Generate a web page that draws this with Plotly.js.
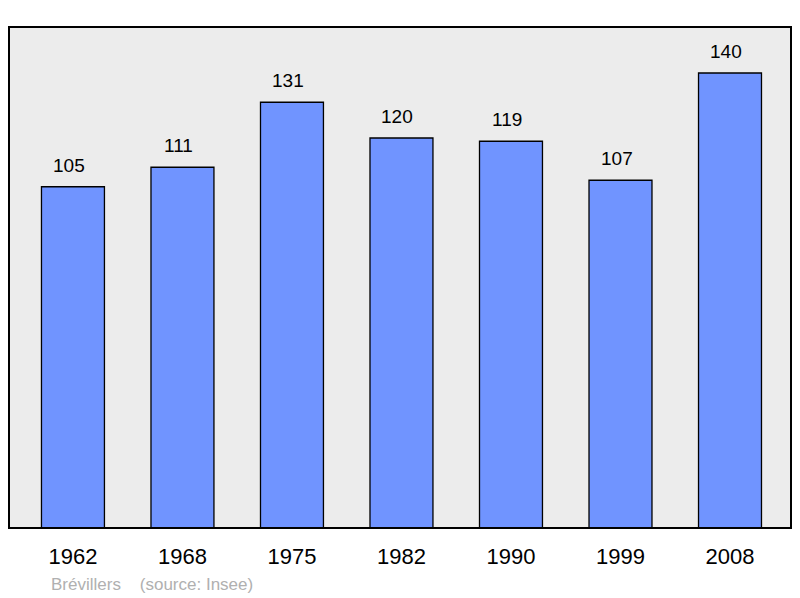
<!DOCTYPE html>
<html>
<head>
<meta charset="utf-8">
<script src="https://cdn.plot.ly/plotly-3.0.1.min.js"></script>
<style>html,body{margin:0;padding:0;background:#fff;}#chart{width:800px;height:598px;}</style>
</head>
<body>
<div id="chart"></div>
<script>
var years = ['1962', '1968', '1975', '1982', '1990', '1999', '2008'];
var population = [105, 111, 131, 120, 119, 107, 140];
var commune = 'Brévillers';
var source = '(source: Insee)';

var trace = {
  type: 'bar',
  x: years.map(function(_, i){ return i; }),
  y: population,
  width: 0.575,
  marker: {color: '#7094ff', line: {color: '#000', width: 1.3}},
  hoverinfo: 'none'
};

var annotations = population.map(function(v, i){
  return {x: i, y: v, xref: 'x', yref: 'y', text: String(v), showarrow: false,
    yanchor: 'bottom', yshift: 9, xshift: -4, font: {family: 'Liberation Sans, Arial, sans-serif', size: 19, color: '#000'}};
});
annotations.push({xref: 'paper', yref: 'paper', x: 40/782, y: 0, xanchor: 'left', yanchor: 'top',
  yshift: -45, text: commune + '&nbsp;&nbsp;&nbsp;&nbsp;' + source, showarrow: false,
  font: {family: 'Liberation Sans, Arial, sans-serif', size: 17, color: '#b0b0b0'}});

var layout = {
  width: 800, height: 598,
  margin: {l: 9, r: 9, t: 27, b: 70},
  paper_bgcolor: '#fff',
  plot_bgcolor: '#ececec',
  showlegend: false,
  xaxis: {
    range: [-0.584, 6.557],
    tickmode: 'array', tickvals: years.map(function(_, i){ return i; }), ticktext: years,
    ticks: 'outside', ticklen: 9, tickcolor: 'rgba(0,0,0,0)',
    tickfont: {family: 'Liberation Sans, Arial, sans-serif', size: 22, color: '#000'},
    showgrid: false, zeroline: false, showline: false, fixedrange: true
  },
  yaxis: {
    range: [0, 154.15], showticklabels: false, showgrid: false, zeroline: false, showline: false, ticks: ''
  },
  shapes: [{type: 'rect', xref: 'paper', yref: 'paper', x0: 0, x1: 1, y0: 0, y1: 1,
    line: {color: '#000', width: 2}, fillcolor: 'rgba(0,0,0,0)', layer: 'above'}],
  annotations: annotations
};

Plotly.newPlot('chart', [trace], layout, {displayModeBar: false, staticPlot: true});
</script>
</body>
</html>
